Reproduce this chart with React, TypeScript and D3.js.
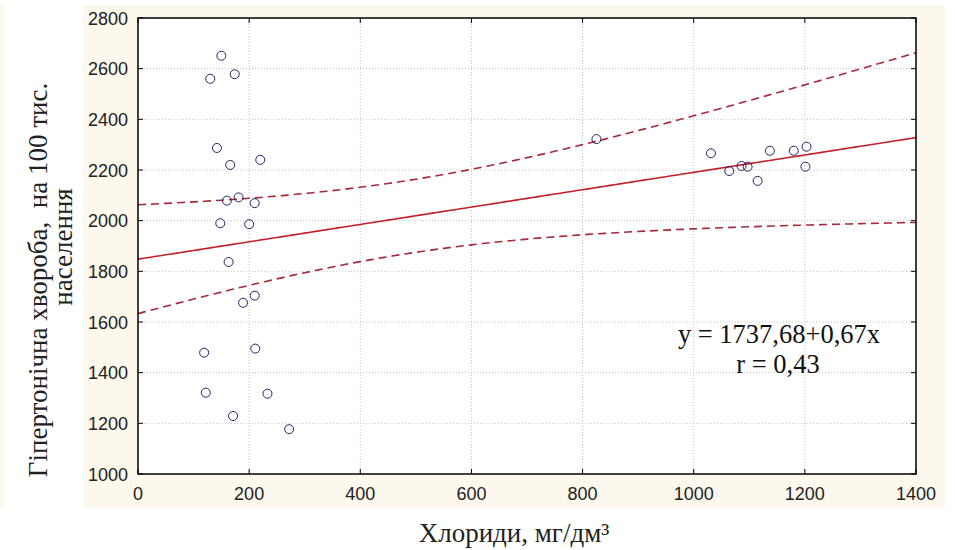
import React from "react";
import * as d3 from "d3";

// Chloride concentration in drinking water, mg/dm³ (one value per district)
const chlorides = [
  150, 130, 174, 142, 166, 220, 160, 181, 210, 148,
  200, 163, 189, 210, 119, 211, 122, 233, 171, 272,
  825,
  1031, 1064, 1086, 1097, 1115, 1137, 1180, 1203, 1201,
];

// Hypertension incidence per 100 000 population (same district order)
const hypertension = [
  2651, 2560, 2578, 2287, 2220, 2240, 2079, 2092, 2069, 1990,
  1986, 1837, 1676, 1704, 1479, 1495, 1321, 1317, 1229, 1177,
  2322,
  2266, 2196, 2216, 2213, 2157, 2276, 2276, 2292, 2213,
];

const xTicks = [0, 200, 400, 600, 800, 1000, 1200, 1400];
const yTicks = [1000, 1200, 1400, 1600, 1800, 2000, 2200, 2400, 2600, 2800];

const equationLines = ["y = 1737,68+0,67x", "r = 0,43"];
const xTitle = "Хлориди, мг/дм³";
const yTitleLines = ["Гіпертонічна хвороба,  на 100 тис.", "населення"];

// two-sided 95% Student t quantile for df = n − 2 = 28
const T_CRIT = 2.048;

const W = 955;
const H = 550;
const plot = { left: 138, right: 916, top: 18, bottom: 474 };

const serif = "'Liberation Serif', 'Times New Roman', serif";
const sans = "'Liberation Sans', Arial, sans-serif";

export default function App() {
  const x = d3.scaleLinear().domain([0, 1400]).range([plot.left, plot.right]);
  const y = d3.scaleLinear().domain([1000, 2800]).range([plot.bottom, plot.top]);

  // least-squares fit with 95% confidence band for the mean
  const n = chlorides.length;
  const mx = d3.mean(chlorides) as number;
  const my = d3.mean(hypertension) as number;
  let sxx = 0;
  let sxy = 0;
  for (let i = 0; i < n; i++) {
    sxx += (chlorides[i] - mx) ** 2;
    sxy += (chlorides[i] - mx) * (hypertension[i] - my);
  }
  const slope = sxy / sxx;
  const intercept = my - slope * mx;
  let sse = 0;
  for (let i = 0; i < n; i++) {
    sse += (hypertension[i] - (intercept + slope * chlorides[i])) ** 2;
  }
  const s = Math.sqrt(sse / (n - 2));
  const fit = (v: number) => intercept + slope * v;
  const half = (v: number) => T_CRIT * s * Math.sqrt(1 / n + (v - mx) ** 2 / sxx);

  const xs = d3.range(0, 1400 + 1, 10);
  const line = d3
    .line<number>()
    .x((v) => x(v))
    .y((v) => y(fit(v)));
  const upper = d3
    .line<number>()
    .x((v) => x(v))
    .y((v) => y(fit(v) + half(v)));
  const lower = d3
    .line<number>()
    .x((v) => x(v))
    .y((v) => y(fit(v) - half(v)));

  const tickLen = 5;

  return (
    <svg
      width={W}
      height={H}
      viewBox={`0 0 ${W} ${H}`}
      style={{ position: "absolute", left: 0, top: 0, background: "#ffffff" }}
    >
      {/* outer panel */}
      <rect x={83} y={5} width={862} height={503} fill="#fcf8ee" />
      <rect x={0} y={5} width={4} height={503} fill="#fcf8ee" />
      <rect
        x={plot.left}
        y={plot.top}
        width={plot.right - plot.left}
        height={plot.bottom - plot.top}
        fill="#ffffff"
      />

      {/* grid */}
      <g stroke="#c4c4c4" strokeWidth={1} strokeDasharray="1,2">
        {xTicks.slice(1, -1).map((t) => (
          <line key={`gx${t}`} x1={x(t)} x2={x(t)} y1={plot.top} y2={plot.bottom} />
        ))}
        {yTicks.slice(1, -1).map((t) => (
          <line key={`gy${t}`} x1={plot.left} x2={plot.right} y1={y(t)} y2={y(t)} />
        ))}
      </g>

      {/* confidence band and regression line */}
      <g fill="none">
        <path d={upper(xs) ?? ""} stroke="#a8283a" strokeWidth={1.6} strokeDasharray="8,5" />
        <path d={lower(xs) ?? ""} stroke="#a8283a" strokeWidth={1.6} strokeDasharray="8,5" />
        <path d={line(xs) ?? ""} stroke="#c41e2a" strokeWidth={1.6} />
      </g>

      {/* observations */}
      <g fill="none" stroke="#24246a" strokeWidth={1}>
        {chlorides.map((c, i) => (
          <circle key={i} cx={x(c)} cy={y(hypertension[i])} r={4.5} />
        ))}
      </g>

      {/* equation */}
      <g fontFamily={serif} fontSize={26.5} fill="#111" textAnchor="middle">
        <text x={779} y={343}>{equationLines[0]}</text>
        <text x={778} y={373}>{equationLines[1]}</text>
      </g>

      {/* frame and ticks */}
      <rect
        x={plot.left}
        y={plot.top}
        width={plot.right - plot.left}
        height={plot.bottom - plot.top}
        fill="none"
        stroke="#000"
        strokeWidth={1.5}
      />
      <g stroke="#000" strokeWidth={1}>
        {xTicks.map((t) => (
          <g key={`tx${t}`}>
            <line x1={x(t)} x2={x(t)} y1={plot.bottom} y2={plot.bottom - tickLen} />
            <line x1={x(t)} x2={x(t)} y1={plot.top} y2={plot.top + tickLen} />
          </g>
        ))}
        {yTicks.map((t) => (
          <g key={`ty${t}`}>
            <line x1={plot.left} x2={plot.left + tickLen} y1={y(t)} y2={y(t)} />
            <line x1={plot.right} x2={plot.right - tickLen} y1={y(t)} y2={y(t)} />
          </g>
        ))}
      </g>

      {/* tick labels */}
      <g fontFamily={sans} fontSize={18} fill="#222">
        {xTicks.map((t) => (
          <text key={`lx${t}`} x={x(t)} y={500} textAnchor="middle">
            {t}
          </text>
        ))}
        {yTicks.map((t) => (
          <text key={`ly${t}`} x={128} y={y(t) + 6.5} textAnchor="end">
            {t}
          </text>
        ))}
      </g>

      {/* axis titles */}
      <text x={514} y={542} fontFamily={serif} fontSize={27} fill="#222" textAnchor="middle">
        {xTitle}
      </text>
      <text
        transform={`translate(47, 280) rotate(-90)`}
        fontFamily={serif}
        fontSize={27}
        fill="#222"
        textAnchor="middle"
        style={{ whiteSpace: "pre" }}
      >
        {yTitleLines[0]}
      </text>
      <text
        transform={`translate(72, 247) rotate(-90)`}
        fontFamily={serif}
        fontSize={27}
        fill="#222"
        textAnchor="middle"
      >
        {yTitleLines[1]}
      </text>
    </svg>
  );
}
